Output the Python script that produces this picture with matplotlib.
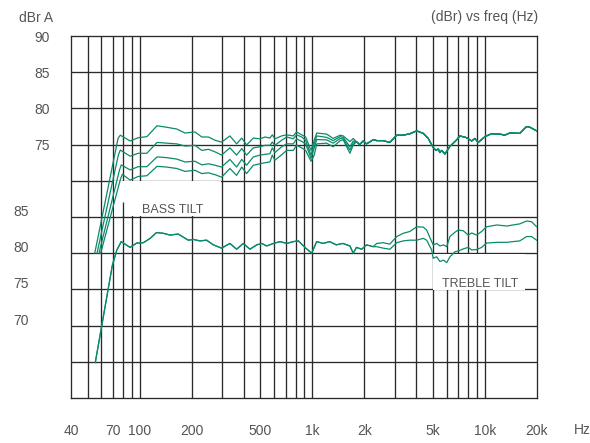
import numpy as np
import matplotlib.pyplot as plt
from matplotlib.patches import Rectangle
from matplotlib.ticker import NullLocator

plt.rcParams['font.family'] = ['Liberation Sans', 'DejaVu Sans']

# ---- data (upper scale dBr, lower scale dBr, freq in Hz) ----
# bass tilt family: rise from the low end up to the first peak
bass_start_hz = [54.9, 56.6, 58.1, 59.4]
bass_start_db = [60.0, 60.0, 60.0, 60.0]
bass_knee_hz = [74.9, 75.2, 76.4, 77.4]
bass_knee_db = [75.85, 73.55, 71.5, 70.25]
bass_peak_hz = [77.2, 77.2, 78.2, 79.3]
bass_peak_db = [76.3, 74.25, 72.2, 70.9]

mid_hz = [88, 98, 110, 126, 143, 164, 183, 209, 229, 250, 273, 298, 333, 364,
          390, 416, 455, 497, 532, 568, 586, 607, 664, 710, 775, 811, 867, 914,
          982, 1025, 1060, 1210, 1320, 1450, 1510, 1650, 1725]
bass1_mid = [75.5, 75.95, 76.1, 77.6, 77.4, 77.15, 76.6, 76.75, 76.05, 76.05,
             75.6, 75.35, 76.2, 75.1, 75.9, 74.95, 75.9, 75.8, 76.05, 75.9,
             76.35, 75.8, 76.2, 76.35, 76.2, 76.75, 76.35, 76.05, 74.2, 75.6,
             76.6, 76.45, 75.85, 76.3, 76.2, 75.4, 75.85]
bass2_mid = [73.4, 73.8, 73.8, 75.3, 75.2, 75.1, 74.8, 74.9, 74.2, 74.35,
             74.0, 73.55, 74.55, 73.55, 74.45, 73.55, 74.55, 74.7, 74.9, 74.9,
             75.35, 74.9, 75.6, 76.05, 75.8, 76.35, 76.05, 75.6, 73.55, 75.1,
             76.2, 76.0, 75.55, 76.1, 76.0, 74.7, 75.5]
bass3_mid = [71.5, 71.95, 71.95, 73.3, 73.2, 73.0, 72.6, 72.7, 72.2, 72.35,
             72.15, 71.9, 72.95, 71.9, 72.95, 72.15, 73.3, 73.55, 73.65, 73.75,
             74.55, 73.9, 74.7, 75.1, 75.1, 75.8, 75.45, 75.1, 73.1, 74.55,
             75.7, 75.65, 75.2, 75.85, 75.8, 74.25, 75.2]
bass4_mid = [70.1, 70.6, 70.7, 72.0, 71.9, 71.7, 71.3, 71.45, 71.0, 71.1,
             70.85, 70.5, 71.7, 70.75, 71.9, 71.0, 72.15, 72.35, 72.5, 72.6,
             73.55, 72.85, 73.6, 74.2, 74.2, 74.9, 74.55, 74.2, 72.7, 73.55,
             75.1, 75.2, 74.7, 75.55, 75.65, 73.8, 74.95]
bass_mid = [bass1_mid, bass2_mid, bass3_mid, bass4_mid]

# common top end of the bass family
upper_hi_hz = [1800, 1880, 1970, 2060, 2160, 2260, 2360, 2570, 2810, 3080,
               3360, 3670, 4020, 4390, 4690, 5010, 5200, 5360, 5480, 5610,
               5860, 6260, 6850, 7150, 7830, 8370, 8740, 9130, 9990, 10900,
               12200, 13000, 13900, 15900, 17400, 18200, 19900]
upper_hi_db = [75.4, 75.0, 75.5, 75.1, 75.4, 75.7, 75.55, 75.55, 75.3, 76.3,
               76.3, 76.5, 76.9, 76.55, 75.85, 74.6, 74.2, 74.4, 73.9, 74.2,
               73.7, 74.75, 75.65, 76.2, 75.95, 75.5, 75.85, 75.3, 76.1, 76.5,
               76.45, 76.3, 76.6, 76.55, 77.5, 77.4, 76.9]

# treble tilt family (lower scale)
lower_lo_hz = [55.3, 69.4, 73.6, 78.2, 87.9, 96.1, 105, 115, 125, 137, 150,
               167, 191, 205, 223, 244, 267, 298, 333, 364, 398, 435, 476, 509,
               544, 595, 650, 710, 775, 830, 906, 991, 1059, 1156, 1260, 1375,
               1500, 1650, 1725, 1800, 1930, 2060, 2250]
lower_lo_db = [64.2, 77.6, 79.7, 80.9, 80.1, 80.7, 80.75, 81.35, 82.15, 82.05,
               81.8, 81.95, 81.1, 81.2, 81.0, 81.1, 80.45, 80.0, 80.65, 79.85,
               80.65, 79.85, 80.45, 80.65, 80.3, 80.65, 80.9, 80.65, 80.9, 81.0,
               80.1, 79.3, 80.9, 80.65, 80.9, 80.45, 80.65, 80.3, 79.3, 80.1,
               79.85, 80.45, 80.2]
treble_hz = [2360, 2570, 2810, 3080, 3360, 3670, 4020, 4390, 4590, 4910, 5010,
             5250, 5480, 5740, 6000, 6260, 6700, 7000, 7480, 8000, 8370, 8940,
             9560, 10200, 11700, 13400, 14500, 15900, 17400, 18600, 19900]
treble_up_db = [80.65, 80.75, 80.55, 81.6, 82.05, 82.3, 82.95, 82.9, 82.5, 80.9,
                80.45, 80.65, 80.3, 80.45, 80.2, 81.6, 82.2, 82.5, 82.4, 81.8,
                82.1, 81.8, 82.3, 82.95, 83.2, 83.05, 83.2, 83.35, 83.75, 83.65,
                82.95]
treble_dn_db = [80.2, 80.0, 79.85, 80.75, 81.0, 81.1, 81.1, 81.35, 81.1, 79.75,
                78.6, 78.8, 78.15, 78.35, 78.0, 78.8, 79.5, 79.6, 79.9, 80.1,
                79.75, 79.8, 80.1, 80.7, 80.8, 80.8, 80.9, 81.0, 81.6, 81.6,
                81.1]

upper_labels = [90, 85, 80, 75]
lower_labels = [85, 80, 75, 70]
lower_offset = 19.3  # lower scale value minus axis value

grid_hz = [50, 60, 70, 80, 90, 100, 200, 300, 400, 500, 600, 700, 800, 900,
           1000, 2000, 3000, 4000, 5000, 6000, 7000, 8000, 9000, 10000]
grid_db = [45, 50, 55, 60, 65, 70, 75, 80, 85]
xtick_hz = [40, 70, 100, 200, 500, 1000, 2000, 5000, 10000, 20000]
xtick_txt = ['40', '70', '100', '200', '500', '1k', '2k', '5k', '10k', '20k']

LINE = '#0b8a6b'
GRID = '#2a2a2a'
TXT = '#555555'

fig = plt.figure(figsize=(5.9, 4.43), dpi=100)
ax = fig.add_axes([71 / 590, 45 / 443, 466 / 590, 362 / 443])
ax.set_xscale('log')
ax.set_xlim(40, 20000)
ax.set_ylim(40, 90)

ax.vlines(grid_hz, 40, 90, colors=GRID, lw=0.95, zorder=1)
ax.hlines(grid_db, 40, 20000, colors=GRID, lw=0.95, zorder=1)

# label boxes that blank out the grid
ax.add_patch(Rectangle((70.8, 65.08), 296 - 70.8, 69.92 - 65.08,
                       fc='white', ec='none', zorder=1.5))
ax.add_patch(Rectangle((5030, 54.85), 17000 - 5030, 59.92 - 54.85,
                       fc='white', ec='none', zorder=1.5))
ax.vlines(80, 65, 67.07, colors=GRID, lw=0.95, zorder=1.6)

ax.text(156, 66.0, 'BASS TILT', color=TXT, fontsize=9, ha='center',
        va='center', zorder=3)
ax.text(9400, 55.7, 'TREBLE TILT', color=TXT, fontsize=9, ha='center',
        va='center', zorder=3)

# bass tilt curves
for i in range(4):
    f = [bass_start_hz[i], bass_knee_hz[i], bass_peak_hz[i]] + mid_hz + upper_hi_hz
    v = [bass_start_db[i], bass_knee_db[i], bass_peak_db[i]] + bass_mid[i] + upper_hi_db
    ax.plot(f, v, color=LINE, lw=0.9, zorder=4)

# treble tilt curves
for branch in [treble_up_db, treble_dn_db]:
    f = lower_lo_hz + treble_hz
    v = np.array(lower_lo_db + branch) - lower_offset
    ax.plot(f, v, color=LINE, lw=0.9, zorder=4)

for s in ax.spines.values():
    s.set_color(GRID)
    s.set_linewidth(0.95)

ax.xaxis.set_minor_locator(NullLocator())
ax.set_xticks(xtick_hz)
ax.set_xticklabels(xtick_txt)
ax.set_yticks(upper_labels)
ax.set_yticklabels([str(v) for v in upper_labels])
ax.tick_params(axis='both', length=0, colors=TXT, labelsize=10)
ax.tick_params(axis='x', pad=19)
ax.tick_params(axis='y', pad=15)

# second (lower) scale labels, further left
trans = ax.get_yaxis_transform()
for v in lower_labels:
    ax.text((29 - 71) / 466, v - lower_offset, str(v), transform=trans,
            color=TXT, fontsize=10, ha='right', va='center')

fig.text(53 / 590, 1 - 18 / 443, 'dBr A', color=TXT, fontsize=10,
         ha='right', va='center')
fig.text(538 / 590, 1 - 17 / 443, '(dBr) vs freq (Hz)', color=TXT,
         fontsize=10, ha='right', va='center')
fig.text(582 / 590, 1 - 430 / 443, 'Hz', color=TXT, fontsize=10,
         ha='center', va='center')

fig.savefig('out.png', dpi=100)
